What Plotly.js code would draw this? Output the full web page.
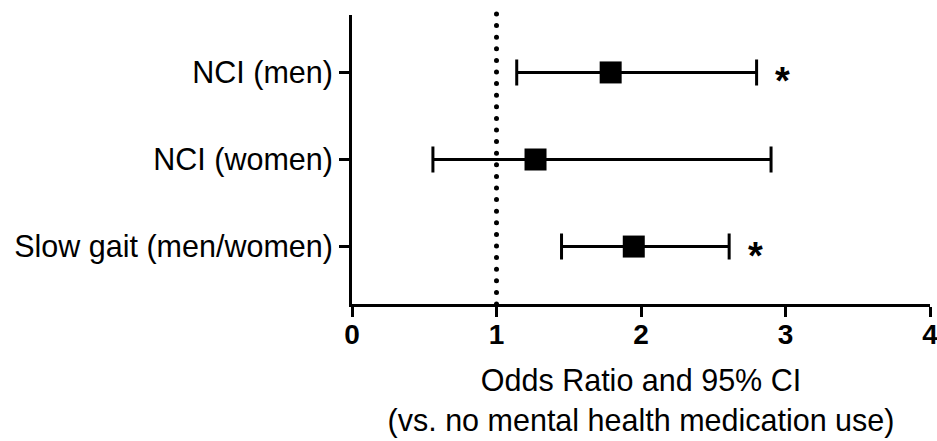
<!DOCTYPE html>
<html>
<head>
<meta charset="utf-8">
<script src="https://cdn.plot.ly/plotly-3.0.1.min.js"></script>
<style>
  html, body { margin: 0; padding: 0; background: #fff; }
  #chart { width: 937px; height: 441px; }
  .shapelayer path { stroke-linecap: round; }
</style>
</head>
<body>
<div id="chart"></div>
<script>
// Data
const categories = ["NCI (men)", "NCI (women)", "Slow gait (men/women)"];
const oddsRatio = [1.79, 1.27, 1.95];
const ciLower = [1.14, 0.56, 1.45];
const ciUpper = [2.80, 2.90, 2.61];
const significant = [true, false, true];
const xTickVals = [0, 1, 2, 3, 4];
const xTickText = ["0", "1", "2", "3", "4"];
const referenceLine = 1;

const rowPos = categories.map((c, i) => i + 1);

const FONT = '"Liberation Sans", Arial, Helvetica, sans-serif';

const trace = {
  type: 'scatter',
  mode: 'markers',
  x: oddsRatio,
  y: rowPos,
  marker: { symbol: 'square', size: 22, color: '#000', line: { width: 0 } },
  error_x: {
    type: 'data',
    symmetric: false,
    array: oddsRatio.map((v, i) => ciUpper[i] - v),
    arrayminus: oddsRatio.map((v, i) => v - ciLower[i]),
    color: '#000',
    thickness: 3,
    width: 13
  },
  hoverinfo: 'skip',
  showlegend: false
};

const annotations = [];
significant.forEach((s, i) => {
  if (s) {
    annotations.push({
      x: ciUpper[i], y: rowPos[i], xref: 'x', yref: 'y',
      text: '<b>*</b>', showarrow: false,
      xanchor: 'center', yanchor: 'middle',
      xshift: 26, yshift: -9,
      font: { family: FONT, size: 38, color: '#000' }
    });
  }
});

const layout = {
  width: 937, height: 441,
  margin: { l: 352, r: 7, t: 15, b: 137 },
  paper_bgcolor: '#fff', plot_bgcolor: '#fff',
  font: { family: FONT, color: '#000' },
  xaxis: {
    range: [0, 4],
    tickmode: 'array', tickvals: xTickVals, ticktext: xTickText,
    showgrid: false, zeroline: false,
    showline: true, linecolor: '#000', linewidth: 3,
    ticks: 'outside', ticklen: 10, tickwidth: 3, tickcolor: '#000',
    tickfont: { family: FONT, size: 28, color: '#000', weight: 'bold' },
    ticklabeloverflow: 'allow',
    ticklabelstandoff: -7,
    title: {
      text: 'Odds Ratio and 95% CI<br>(vs. no mental health medication use)',
      font: { family: FONT, size: 30.5, color: '#000' },
      standoff: 22
    },
    automargin: false,
    fixedrange: true
  },
  yaxis: {
    range: [3.66, 0.34],
    tickmode: 'array', tickvals: rowPos, ticktext: categories,
    showgrid: false, zeroline: false,
    showline: true, linecolor: '#000', linewidth: 3,
    ticks: 'outside', ticklen: 10, tickwidth: 3, tickcolor: '#000',
    tickfont: { family: FONT, size: 30.5, color: '#000' },
    automargin: false,
    fixedrange: true
  },
  shapes: [{
    type: 'line', xref: 'x', yref: 'paper',
    x0: referenceLine, x1: referenceLine, y0: 0, y1: 1.01,
    line: { color: '#000', width: 5, dash: '0px,11.6px' },
    layer: 'below'
  }],
  annotations: annotations
};

Plotly.newPlot('chart', [trace], layout, { displayModeBar: false, staticPlot: true });
</script>
</body>
</html>
